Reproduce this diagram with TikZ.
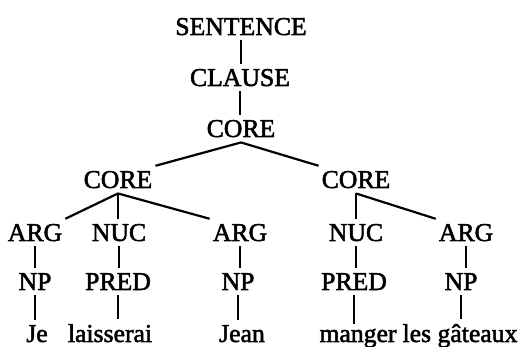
\documentclass[tikz,border=0pt]{standalone}
\usepackage{fontspec}
\setmainfont{Liberation Serif}
\newfontfamily\heavyserif[FakeBold=2]{Liberation Serif}
\begin{document}
\begin{tikzpicture}[x=1pt,y=-1pt,
  lab/.style={anchor=base,inner xsep=3pt,inner ysep=5pt,font=\heavyserif\fontsize{25.7}{30}\selectfont},
  edge/.style={line width=2.2pt}]
\useasboundingbox (0,0) rectangle (523,347);
\node[lab] (s) at (241,35) {SENTENCE};
\node[lab] (cl) at (240,86) {CLAUSE};
\node[lab] (c0) at (241,137) {CORE};
\node[lab] (c1) at (118,188) {CORE};
\node[lab] (c2) at (356,188) {CORE};
\node[lab] (a1) at (35,241) {ARG};
\node[lab] (n1) at (119,241) {NUC};
\node[lab] (a2) at (240,241) {ARG};
\node[lab] (n2) at (356,241) {NUC};
\node[lab] (a3) at (466,241) {ARG};
\node[lab] (np1) at (35,290) {NP};
\node[lab] (p1) at (118,290) {PRED};
\node[lab] (np2) at (238,290) {NP};
\node[lab] (p2) at (354,290) {PRED};
\node[lab] (np3) at (461,290) {NP};
\node[lab] (w1) at (37,342) {Je};
\node[lab] (w2) at (110,342) {laisserai};
\node[lab] (w3) at (242,342) {Jean};
\node[lab] (w4) at (358,342) {manger};
\node[lab] (w5) at (460,342) {les gâteaux};
\draw[edge] (s.south) -- (s.south |- cl.north);
\draw[edge] (cl.south) -- (cl.south |- c0.north);
\draw[edge] (c0.south) -- (c1.north east);
\draw[edge] (c0.south) -- (c2.north west);
\draw[edge] (c1.south) -- (a1.north east);
\draw[edge] (c1.south) -- (c1.south |- n1.north);
\draw[edge] (c1.south) -- (a2.north west);
\draw[edge] (c2.south) -- (c2.south |- n2.north);
\draw[edge] (c2.south) -- (a3.north west);
\draw[edge] (a1.south) -- (a1.south |- np1.north);
\draw[edge] (n1.south) -- (n1.south |- p1.north);
\draw[edge] (a2.south) -- (a2.south |- np2.north);
\draw[edge] (n2.south) -- (n2.south |- p2.north);
\draw[edge] (a3.south) -- (a3.south |- np3.north);
\draw[edge] (np1.south) -- (np1.south |- w1.north);
\draw[edge] (p1.south) -- (p1.south |- w2.north);
\draw[edge] (np2.south) -- (np2.south |- w3.north);
\draw[edge] (p2.south) -- (p2.south |- w4.north);
\draw[edge] (np3.south) -- (np3.south |- w5.north);
\end{tikzpicture}
\end{document}
